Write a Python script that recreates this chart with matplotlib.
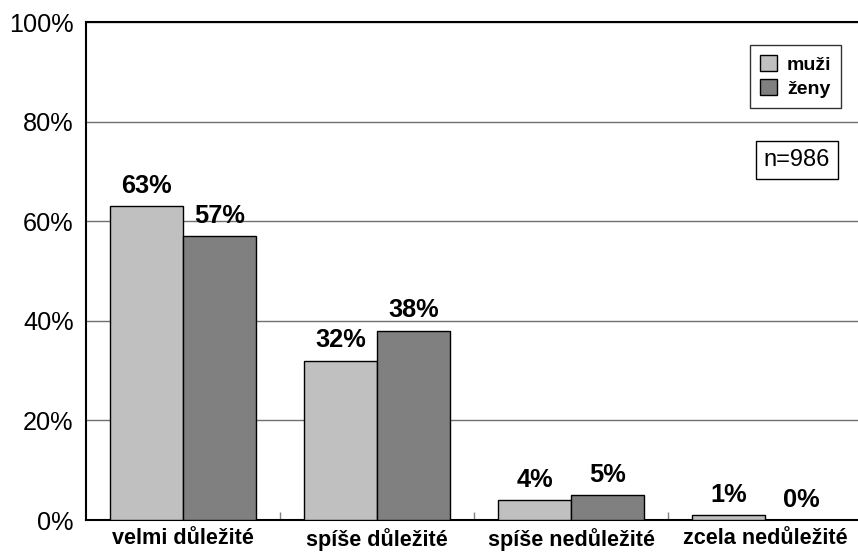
import matplotlib
matplotlib.use("Agg")
import matplotlib.pyplot as plt
import numpy as np
from matplotlib.ticker import FixedLocator

categories = ["velmi důležité", "spíše důležité", "spíše nedůležité", "zcela nedůležité"]
muzi = [63, 32, 4, 1]
zeny = [57, 38, 5, 0]
series_names = ["muži", "ženy"]
yticks = [0, 20, 40, 60, 80, 100]

plt.rcParams["font.family"] = ["Liberation Sans", "DejaVu Sans"]

fig = plt.figure(figsize=(8.58, 5.53), dpi=100)
ax = fig.add_axes([86 / 858, 33 / 553, 776 / 858, 498 / 553])

x = np.arange(len(categories))
w = 0.375
b1 = ax.bar(x - w / 2, muzi, w, color="#C0C0C0", edgecolor="black", linewidth=1.0,
            label=series_names[0], zorder=3)
b2 = ax.bar(x + w / 2, zeny, w, color="#808080", edgecolor="black", linewidth=1.0,
            label=series_names[1], zorder=3)

for bars, vals in ((b1, muzi), (b2, zeny)):
    for rect, v in zip(bars, vals):
        ax.annotate(f"{v}%", (rect.get_x() + rect.get_width() / 2, v),
                    xytext=(0, 6), textcoords="offset points",
                    ha="center", va="bottom", fontsize=18.3, fontweight="bold")

ax.set_xlim(-0.5, len(categories) - 0.5)
ax.set_ylim(0, 100)
ax.set_yticks(yticks)
ax.set_yticklabels([f"{t}%" for t in yticks], fontsize=18.2)
ax.tick_params(axis="y", length=0, pad=9)
ax.yaxis.grid(True, color="#707070", linewidth=1.0, zorder=0)
ax.set_axisbelow(True)

ax.set_xticks(x)
ax.set_xticklabels(categories, fontsize=15.6, fontweight="bold")
ax.tick_params(axis="x", which="major", length=0, pad=5.5)
ax.xaxis.set_minor_locator(FixedLocator(x[:-1] + 0.5))
ax.tick_params(axis="x", which="minor", direction="in", length=6, width=1.0, color="#808080")

for side in ("left", "bottom", "top"):
    ax.spines[side].set_linewidth(1.5)
    ax.spines[side].set_color("black")
ax.spines["right"].set_visible(False)

leg = ax.legend(loc="upper right", bbox_to_anchor=(841 / 858, 1 - 45 / 553),
                bbox_transform=fig.transFigure,
                prop={"weight": "bold", "size": 14}, frameon=True, fancybox=False,
                handlelength=0.9, handleheight=0.9, handletextpad=0.5,
                borderpad=0.5, labelspacing=0.3, borderaxespad=0)
leg.get_frame().set_edgecolor("black")
leg.get_frame().set_linewidth(1.0)

fig.text(797 / 858, 1 - 160 / 553, "n=986", fontsize=17, ha="center", va="center",
         bbox=dict(boxstyle="square,pad=0.35", facecolor="white", edgecolor="black", linewidth=1.0))

fig.savefig("out.png", dpi=100)
